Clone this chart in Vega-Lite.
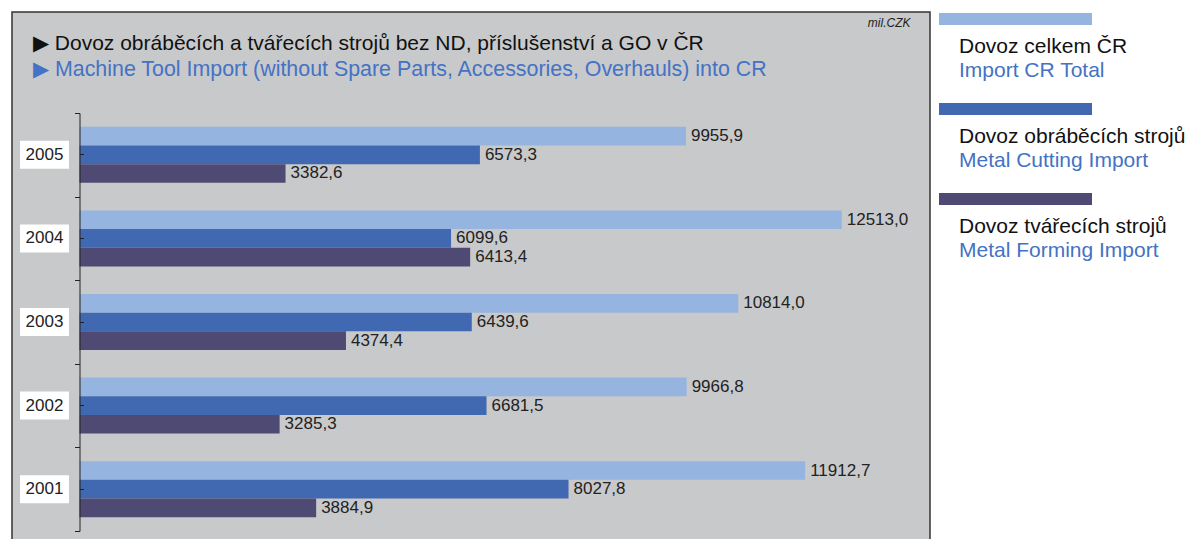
{
  "$schema": "https://vega.github.io/schema/vega-lite/v6.json",
  "padding": {"left": 11, "top": 11, "right": 0, "bottom": 0},
  "background": "white",
  "spacing": 8,
  "config": {
    "font": "Liberation Sans",
    "locale": {"number": {"decimal": ",", "thousands": "", "grouping": [3], "currency": ["", ""]}},
    "view": {"stroke": null},
    "axisX": {"domain": false, "ticks": false, "labels": false, "grid": false, "titleFontStyle": "italic", "titleFontWeight": "normal", "titleFontSize": 12, "titleColor": "#222222", "titleX": 898, "titleY": 14, "titleAlign": "right", "titleBaseline": "alphabetic", "titleAngle": 0}
  },
  "datasets": {
    "imports": [
      {"year": "2005", "key": "total", "value": 9955.9},
      {"year": "2005", "key": "cutting", "value": 6573.3},
      {"year": "2005", "key": "forming", "value": 3382.6},
      {"year": "2004", "key": "total", "value": 12513.0},
      {"year": "2004", "key": "cutting", "value": 6099.6},
      {"year": "2004", "key": "forming", "value": 6413.4},
      {"year": "2003", "key": "total", "value": 10814.0},
      {"year": "2003", "key": "cutting", "value": 6439.6},
      {"year": "2003", "key": "forming", "value": 4374.4},
      {"year": "2002", "key": "total", "value": 9966.8},
      {"year": "2002", "key": "cutting", "value": 6681.5},
      {"year": "2002", "key": "forming", "value": 3285.3},
      {"year": "2001", "key": "total", "value": 11912.7},
      {"year": "2001", "key": "cutting", "value": 8027.8},
      {"year": "2001", "key": "forming", "value": 3884.9}
    ],
    "series": [
      {"key": "total", "cz": "Dovoz celkem ČR", "en": "Import CR Total"},
      {"key": "cutting", "cz": "Dovoz obráběcích strojů", "en": "Metal Cutting Import"},
      {"key": "forming", "cz": "Dovoz tvářecích strojů", "en": "Metal Forming Import"}
    ]
  },
  "hconcat": [
    {
      "width": 918,
      "height": 528,
      "view": {"fill": "#c8c9cb", "stroke": "#333333", "strokeWidth": 1.5},
      "title": {
        "text": "▶ Dovoz obráběcích a tvářecích strojů bez ND, příslušenství a GO v ČR",
        "subtitle": "▶ Machine Tool Import (without Spare Parts, Accessories, Overhauls) into CR",
        "anchor": "start",
        "frame": "group",
        "dx": 21,
        "offset": -68,
        "fontSize": 21,
        "fontWeight": "normal",
        "color": "#111111",
        "subtitleFontSize": 21.4,
        "subtitleColor": "#4472c4",
        "subtitlePadding": 5
      },
      "data": {"name": "imports"},
      "resolve": {"axis": {"y": "independent"}},
      "layer": [
        {
          "transform": [{"filter": "datum.key == 'total'"}],
          "mark": {"type": "bar", "height": 28, "color": "white"},
          "encoding": {
            "y": {
              "field": "year",
              "type": "nominal",
              "scale": {"domain": ["2005", "2004", "2003", "2002", "2001"], "range": [101, 519], "paddingInner": 0, "paddingOuter": 0},
              "axis": {"orient": "left", "offset": -67.5, "labels": false, "title": null, "tickBand": "extent", "tickSize": 5, "tickColor": "#222222", "domainColor": "#222222", "grid": false, "zindex": 1}
            },
            "x": {"datum": -977, "type": "quantitative", "scale": {"domain": [-1108, 13962], "nice": false, "zero": false}, "axis": {"orient": "top", "title": "mil.CZK"}},
            "x2": {"datum": -172}
          }
        },
        {
          "transform": [{"filter": "datum.key == 'total'"}],
          "mark": {"type": "text", "align": "center", "baseline": "middle", "fontSize": 17, "color": "#222222"},
          "encoding": {
            "y": {"field": "year", "type": "nominal", "axis": null},
            "x": {"datum": -575, "type": "quantitative", "axis": {"orient": "top", "title": "mil.CZK"}},
            "text": {"field": "year"}
          }
        },
        {
          "mark": {"type": "bar"},
          "encoding": {
            "y": {"field": "year", "type": "nominal", "axis": null},
            "x": {"field": "value", "type": "quantitative", "axis": {"orient": "top", "title": "mil.CZK"}},
            "yOffset": {"field": "key", "scale": {"domain": ["total", "cutting", "forming"], "paddingInner": 0, "paddingOuter": 0.74}},
            "color": {"field": "key", "scale": {"domain": ["total", "cutting", "forming"], "range": ["#95b4df", "#4169b2", "#4f4a73"]}, "legend": null}
          }
        },
        {
          "mark": {"type": "text", "align": "left", "baseline": "middle", "dx": 5, "fontSize": 17, "color": "#222222"},
          "encoding": {
            "y": {
              "field": "year",
              "type": "nominal",
              "axis": {"orient": "left", "offset": -71.5, "labels": false, "title": null, "domain": false, "tickBand": "center", "tickSize": 4, "tickColor": "#222222", "grid": false, "zindex": 2}
            },
            "x": {"field": "value", "type": "quantitative", "axis": {"orient": "top", "title": "mil.CZK"}},
            "yOffset": {"field": "key", "scale": {"domain": ["total", "cutting", "forming"], "paddingInner": 0, "paddingOuter": 0.74}},
            "text": {"field": "value", "type": "quantitative", "format": ".1f"}
          }
        }
      ]
    },
    {
      "width": 251,
      "height": 528,
      "data": {"name": "series"},
      "encoding": {
        "y": {"field": "key", "type": "nominal", "scale": {"type": "point", "domain": ["total", "cutting", "forming"], "range": [7, 187], "padding": 0}, "axis": null}
      },
      "layer": [
        {
          "mark": {"type": "bar", "height": 12},
          "encoding": {
            "x": {"datum": 0, "type": "quantitative", "scale": {"domain": [0, 251], "nice": false, "zero": false}, "axis": null},
            "x2": {"datum": 153},
            "color": {"field": "key", "scale": {"domain": ["total", "cutting", "forming"], "range": ["#95b4df", "#4169b2", "#4f4a73"]}, "legend": null}
          }
        },
        {
          "mark": {"type": "text", "align": "left", "baseline": "alphabetic", "dy": 34, "fontSize": 21, "color": "#111111"},
          "encoding": {
            "x": {"datum": 20, "type": "quantitative", "axis": null},
            "text": {"field": "cz"}
          }
        },
        {
          "mark": {"type": "text", "align": "left", "baseline": "alphabetic", "dy": 58, "fontSize": 21, "color": "#4472c4"},
          "encoding": {
            "x": {"datum": 20, "type": "quantitative", "axis": null},
            "text": {"field": "en"}
          }
        }
      ]
    }
  ]
}
